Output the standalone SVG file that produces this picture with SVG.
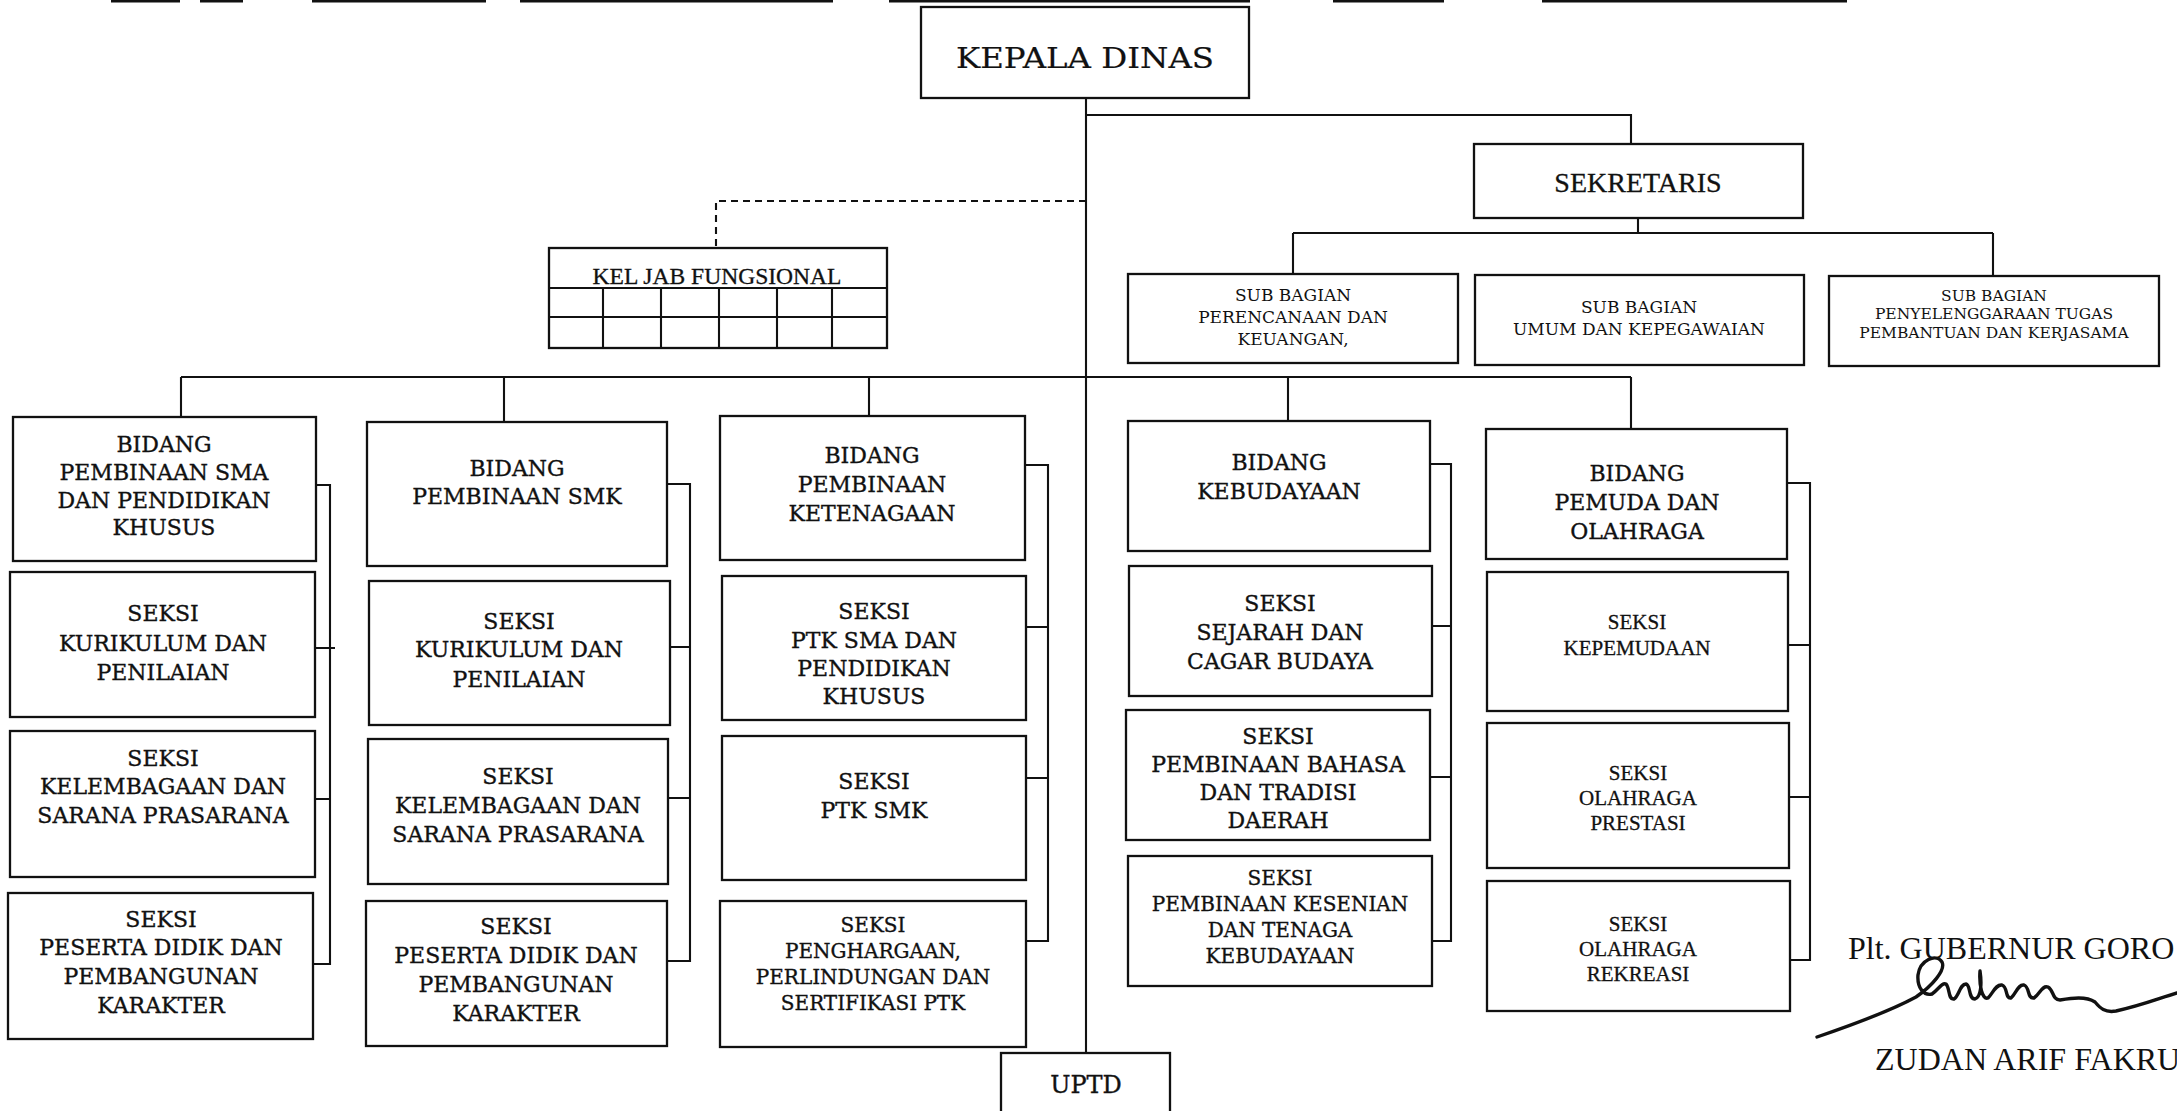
<svg xmlns="http://www.w3.org/2000/svg" width="2177" height="1111" viewBox="0 0 2177 1111">
  <style>
    .box { fill: #fff; stroke: #111; stroke-width: 2.3; }
    .ln { fill: none; stroke: #111; stroke-width: 2.1; }
    .dash { stroke-dasharray: 7 5; }
    .t { font-family: "DejaVu Serif", serif; font-size: 22px; text-anchor: middle; fill: #111; stroke: #111; stroke-width: 0.35; }
    .s20 { font-size: 20px; }
    .tr { font-family: "Liberation Serif", "Times New Roman", serif; text-anchor: middle; fill: #111; stroke: #111; stroke-width: 0.3; }
    .sb { font-family: "DejaVu Serif", serif; font-size: 17px; text-anchor: middle; fill: #111; }
    .sig { font-family: "Liberation Serif", "Times New Roman", serif; font-size: 32px; fill: #111; }
  </style>

  <rect width="2177" height="1111" fill="#fff"/>

  <!-- broken frame rule along the top edge -->
  <path class="ln" style="stroke-width:3" d="M111,1 H180 M200,1 H243 M312,1 H486 M520,1 H833 M889,1 H1250 M1333,1 H1444 M1542,1 H1847"/>

  <!-- connectors -->
  <g id="connectors">
    <path class="ln" d="M1086,98 V1053"/>
    <path class="ln" d="M1086,115 H1631 V144"/>
    <path class="ln" d="M1638,218 V233 M1293,233 H1993 M1293,233 V274 M1993,233 V276"/>
    <path class="ln dash" d="M1086,201 H716 V248"/>
    <path class="ln" d="M181,377 H1631 M181,377 V417 M504,377 V422 M869,377 V416 M1288,377 V421 M1631,377 V429"/>
    <!-- bracket lines tying each bidang to its seksi -->
    <path class="ln" d="M316,485 H330 V964 H313 M315,648 H335 M315,799 H330"/>
    <path class="ln" d="M667,484 H690 V961 H667 M670,647 H690 M668,798 H690"/>
    <path class="ln" d="M1025,465 H1048 V941 H1026 M1026,627 H1048 M1026,778 H1048"/>
    <path class="ln" d="M1430,464 H1451 V941 H1432 M1432,626 H1451 M1430,777 H1451"/>
    <path class="ln" d="M1787,483 H1810 V960 H1790 M1788,645 H1810 M1789,797 H1810"/>
  </g>

  <g id="kepala-dinas">
    <rect class="box" x="921" y="7" width="328" height="91"/>
    <text class="t" x="1085" y="68" style="font-size:27px;stroke-width:0.2" textLength="258" lengthAdjust="spacingAndGlyphs">KEPALA DINAS</text>
  </g>

  <g id="sekretaris">
    <rect class="box" x="1474" y="144" width="329" height="74"/>
    <text class="tr" x="1638" y="192" style="font-size:28px">SEKRETARIS</text>
  </g>

  <g id="kel-jab-fungsional">
    <rect class="box" x="549" y="248" width="338" height="100"/>
    <path class="ln" d="M549,288 H887 M549,317 H887 M603,288 V348 M661,288 V348 M719,288 V348 M777,288 V348 M832,288 V348"/>
    <text class="tr" x="717" y="284" style="font-size:24px" textLength="249" lengthAdjust="spacingAndGlyphs">KEL JAB FUNGSIONAL</text>
  </g>

  <g id="subbag-perencanaan">
    <rect class="box" x="1128" y="274" width="330" height="89"/>
    <text class="sb" x="1293" y="301">SUB BAGIAN</text>
    <text class="sb" x="1293" y="323">PERENCANAAN DAN</text>
    <text class="sb" x="1293" y="345">KEUANGAN,</text>
  </g>

  <g id="subbag-umum">
    <rect class="box" x="1475" y="275" width="329" height="90"/>
    <text class="sb" x="1639" y="313">SUB BAGIAN</text>
    <text class="sb" x="1639" y="335">UMUM DAN KEPEGAWAIAN</text>
  </g>

  <g id="subbag-tugas-pembantuan">
    <rect class="box" x="1829" y="276" width="330" height="90"/>
    <text class="sb" x="1994" y="301" style="font-size:15.5px">SUB BAGIAN</text>
    <text class="sb" x="1994" y="319" style="font-size:15.5px">PENYELENGGARAAN TUGAS</text>
    <text class="sb" x="1994" y="338" style="font-size:15.5px">PEMBANTUAN DAN KERJASAMA</text>
  </g>

  <!-- Bidang Pembinaan SMA dan Pendidikan Khusus -->
  <g id="bidang-sma">
    <rect class="box" x="13" y="417" width="303" height="144"/>
    <text class="t" x="164" y="452">BIDANG</text>
    <text class="t" x="164" y="480">PEMBINAAN SMA</text>
    <text class="t" x="164" y="508">DAN PENDIDIKAN</text>
    <text class="t" x="164" y="535">KHUSUS</text>
  </g>
  <g id="seksi-sma-kurikulum">
    <rect class="box" x="10" y="572" width="305" height="145"/>
    <text class="t" x="163" y="621">SEKSI</text>
    <text class="t" x="163" y="651">KURIKULUM DAN</text>
    <text class="t" x="163" y="680">PENILAIAN</text>
  </g>
  <g id="seksi-sma-kelembagaan">
    <rect class="box" x="10" y="731" width="305" height="146"/>
    <text class="t" x="163" y="766">SEKSI</text>
    <text class="t" x="163" y="794">KELEMBAGAAN DAN</text>
    <text class="t" x="163" y="823">SARANA PRASARANA</text>
  </g>
  <g id="seksi-sma-peserta">
    <rect class="box" x="8" y="893" width="305" height="146"/>
    <text class="t" x="161" y="927">SEKSI</text>
    <text class="t" x="161" y="955">PESERTA DIDIK DAN</text>
    <text class="t" x="161" y="984">PEMBANGUNAN</text>
    <text class="t" x="161" y="1013">KARAKTER</text>
  </g>

  <!-- Bidang Pembinaan SMK -->
  <g id="bidang-smk">
    <rect class="box" x="367" y="422" width="300" height="144"/>
    <text class="t" x="517" y="476">BIDANG</text>
    <text class="t" x="517" y="504">PEMBINAAN SMK</text>
  </g>
  <g id="seksi-smk-kurikulum">
    <rect class="box" x="369" y="581" width="301" height="144"/>
    <text class="t" x="519" y="629">SEKSI</text>
    <text class="t" x="519" y="657">KURIKULUM DAN</text>
    <text class="t" x="519" y="687">PENILAIAN</text>
  </g>
  <g id="seksi-smk-kelembagaan">
    <rect class="box" x="368" y="739" width="300" height="145"/>
    <text class="t" x="518" y="784">SEKSI</text>
    <text class="t" x="518" y="813">KELEMBAGAAN DAN</text>
    <text class="t" x="518" y="842">SARANA PRASARANA</text>
  </g>
  <g id="seksi-smk-peserta">
    <rect class="box" x="366" y="901" width="301" height="145"/>
    <text class="t" x="516" y="934">SEKSI</text>
    <text class="t" x="516" y="963">PESERTA DIDIK DAN</text>
    <text class="t" x="516" y="992">PEMBANGUNAN</text>
    <text class="t" x="516" y="1021">KARAKTER</text>
  </g>

  <!-- Bidang Pembinaan Ketenagaan -->
  <g id="bidang-ketenagaan">
    <rect class="box" x="720" y="416" width="305" height="144"/>
    <text class="t" x="872" y="463">BIDANG</text>
    <text class="t" x="872" y="492">PEMBINAAN</text>
    <text class="t" x="872" y="521">KETENAGAAN</text>
  </g>
  <g id="seksi-ptk-sma">
    <rect class="box" x="722" y="576" width="304" height="144"/>
    <text class="t" x="874" y="619">SEKSI</text>
    <text class="t" x="874" y="648">PTK SMA DAN</text>
    <text class="t" x="874" y="676">PENDIDIKAN</text>
    <text class="t" x="874" y="704">KHUSUS</text>
  </g>
  <g id="seksi-ptk-smk">
    <rect class="box" x="722" y="736" width="304" height="144"/>
    <text class="t" x="874" y="789">SEKSI</text>
    <text class="t" x="874" y="818">PTK SMK</text>
  </g>
  <g id="seksi-penghargaan">
    <rect class="box" x="720" y="901" width="306" height="146"/>
    <text class="t s20" x="873" y="932">SEKSI</text>
    <text class="t s20" x="873" y="958">PENGHARGAAN,</text>
    <text class="t s20" x="873" y="984">PERLINDUNGAN DAN</text>
    <text class="t s20" x="873" y="1010">SERTIFIKASI PTK</text>
  </g>

  <!-- Bidang Kebudayaan -->
  <g id="bidang-kebudayaan">
    <rect class="box" x="1128" y="421" width="302" height="130"/>
    <text class="t" x="1279" y="470">BIDANG</text>
    <text class="t" x="1279" y="499">KEBUDAYAAN</text>
  </g>
  <g id="seksi-sejarah">
    <rect class="box" x="1129" y="566" width="303" height="130"/>
    <text class="t" x="1280" y="611">SEKSI</text>
    <text class="t" x="1280" y="640">SEJARAH DAN</text>
    <text class="t" x="1280" y="669">CAGAR BUDAYA</text>
  </g>
  <g id="seksi-bahasa">
    <rect class="box" x="1126" y="710" width="304" height="130"/>
    <text class="t" x="1278" y="744">SEKSI</text>
    <text class="t" x="1278" y="772">PEMBINAAN BAHASA</text>
    <text class="t" x="1278" y="800">DAN TRADISI</text>
    <text class="t" x="1278" y="828">DAERAH</text>
  </g>
  <g id="seksi-kesenian">
    <rect class="box" x="1128" y="856" width="304" height="130"/>
    <text class="t s20" x="1280" y="885">SEKSI</text>
    <text class="t s20" x="1280" y="911">PEMBINAAN KESENIAN</text>
    <text class="t s20" x="1280" y="937">DAN TENAGA</text>
    <text class="t s20" x="1280" y="963">KEBUDAYAAN</text>
  </g>

  <!-- Bidang Pemuda dan Olahraga -->
  <g id="bidang-pemuda">
    <rect class="box" x="1486" y="429" width="301" height="130"/>
    <text class="t" x="1637" y="481">BIDANG</text>
    <text class="t" x="1637" y="510">PEMUDA DAN</text>
    <text class="t" x="1637" y="539">OLAHRAGA</text>
  </g>
  <g id="seksi-kepemudaan">
    <rect class="box" x="1487" y="572" width="301" height="139"/>
    <text class="tr" x="1637" y="629" style="font-size:21px">SEKSI</text>
    <text class="tr" x="1637" y="655" style="font-size:21px">KEPEMUDAAN</text>
  </g>
  <g id="seksi-prestasi">
    <rect class="box" x="1487" y="723" width="302" height="145"/>
    <text class="tr" x="1638" y="780" style="font-size:21px">SEKSI</text>
    <text class="tr" x="1638" y="805" style="font-size:21px">OLAHRAGA</text>
    <text class="tr" x="1638" y="830" style="font-size:21px">PRESTASI</text>
  </g>
  <g id="seksi-rekreasi">
    <rect class="box" x="1487" y="881" width="303" height="130"/>
    <text class="tr" x="1638" y="931" style="font-size:21px">SEKSI</text>
    <text class="tr" x="1638" y="956" style="font-size:21px">OLAHRAGA</text>
    <text class="tr" x="1638" y="981" style="font-size:21px">REKREASI</text>
  </g>

  <g id="uptd">
    <rect class="box" x="1001" y="1053" width="169" height="70"/>
    <text class="t" x="1086" y="1093" style="font-size:24px">UPTD</text>
  </g>

  <!-- signature block -->
  <g id="signature">
    <text class="sig" x="1848" y="959">Plt. GUBERNUR GORO</text>
    <path fill="none" stroke="#111" stroke-width="3.4" stroke-linecap="round" stroke-linejoin="round"
      d="M1817,1037 C1855,1024 1892,1010 1916,997 C1932,986 1946,970 1942,962 C1936,953 1920,960 1918,975 C1917,988 1924,996 1932,994 C1938,990 1942,982 1946,984 C1950,988 1948,1000 1954,999 C1959,996 1960,984 1966,984 C1971,985 1968,999 1975,999 C1981,997 1982,984 1980,971 C1979,985 1982,1000 1988,998 C1993,993 1996,984 2002,985 C2008,987 2005,999 2011,998 C2016,994 2018,984 2024,985 C2030,987 2027,999 2034,998 C2040,994 2042,985 2048,987 C2054,990 2052,1000 2060,1000 C2072,998 2086,996 2095,1002 C2100,1008 2105,1013 2116,1011 C2140,1006 2160,998 2177,993"/>
    <text class="sig" x="1875" y="1070">ZUDAN ARIF FAKRU</text>
  </g>
</svg>
